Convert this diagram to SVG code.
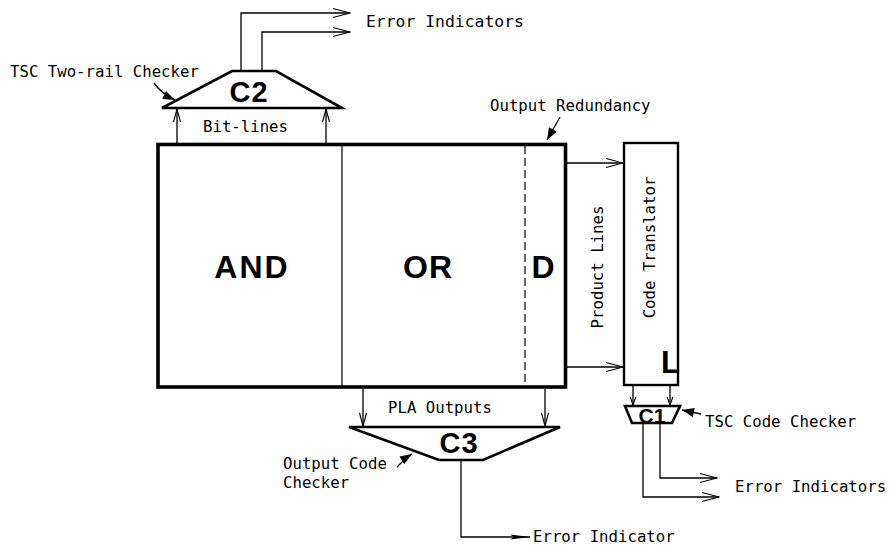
<svg xmlns="http://www.w3.org/2000/svg" width="889" height="549" viewBox="0 0 889 549">
<style>
.lbl{font-family:"DejaVu Sans Mono","Liberation Mono",monospace;font-size:15.7px;fill:#000}
.big{font-family:"Liberation Sans","DejaVu Sans",sans-serif;font-weight:bold;fill:#000}
.ln{fill:none;stroke:#000;stroke-width:1.3}
.thick{fill:none;stroke:#000;stroke-width:2.6;stroke-linejoin:miter}
</style>
<defs>
<marker id="vLong" viewBox="-19 -6 20 12" refX="0" refY="0" markerWidth="20" markerHeight="12" markerUnits="userSpaceOnUse" orient="auto"><path d="M-17,-4.5 L0,0 L-17,4.5" fill="none" stroke="#000" stroke-width="1.2"/></marker>
<marker id="vMid" viewBox="-15 -5 16 10" refX="0" refY="0" markerWidth="16" markerHeight="10" markerUnits="userSpaceOnUse" orient="auto"><path d="M-13,-3.5 L0,0 L-13,3.5" fill="none" stroke="#000" stroke-width="1.1"/></marker>
<marker id="vShort" viewBox="-10 -4 11 8" refX="0" refY="0" markerWidth="11" markerHeight="8" markerUnits="userSpaceOnUse" orient="auto"><path d="M-8,-2.8 L0,0 L-8,2.8" fill="none" stroke="#000" stroke-width="1.1"/></marker>
<marker id="fThin" viewBox="-21 -4 22 8" refX="0" refY="0" markerWidth="22" markerHeight="8" markerUnits="userSpaceOnUse" orient="auto"><path d="M-20,-2.5 L0,0 L-20,2.5 L-16,0 Z" fill="#000"/></marker>
<marker id="fCall" viewBox="-13 -6 14 12" refX="0" refY="0" markerWidth="14" markerHeight="12" markerUnits="userSpaceOnUse" orient="auto"><path d="M-12,-4.5 L0,0 L-12,4.5 Z" fill="#000"/></marker>
</defs>

<g id="pla">
<rect x="158" y="144.5" width="407.5" height="242.5" fill="none" stroke="#000" stroke-width="3.6"/>
<line x1="342" y1="145" x2="342" y2="387" stroke="#000" stroke-width="1.2"/>
<line x1="525" y1="146" x2="525" y2="386" stroke="#000" stroke-width="1.2" stroke-dasharray="8,4"/>
<text class="big" x="252" y="278" font-size="32" text-anchor="middle" letter-spacing="2">AND</text>
<text class="big" x="428" y="278" font-size="32" text-anchor="middle" letter-spacing="1">OR</text>
<text class="big" x="543" y="278" font-size="32" text-anchor="middle">D</text>
</g>

<g id="c2">
<path class="thick" d="M162,108 L232,71 L276,71 L342,108 Z"/>
<text class="big" x="249" y="102" font-size="29" text-anchor="middle" letter-spacing="1">C2</text>
</g>

<g id="c3">
<path class="thick" d="M349,427 L560,427 L483,460 L439,460 Z"/>
<text class="big" x="459" y="453" font-size="29" text-anchor="middle" letter-spacing="1">C3</text>
</g>

<g id="translator">
<rect x="624" y="143" width="54" height="242" fill="none" stroke="#000" stroke-width="2.4"/>
<text class="big" x="661" y="373" font-size="31">L</text>
<text class="lbl" transform="translate(655,247.5) rotate(-90)" text-anchor="middle">Code Translator</text>
</g>

<g id="c1">
<path class="thick" d="M625,406 L680,406 L672,423 L632,423 Z"/>
<text class="big" x="652" y="422.5" font-size="21" text-anchor="middle">C1</text>
</g>

<g id="connectors">
<polyline class="ln" points="241,71 241,13 350,13" marker-end="url(#vLong)"/>
<polyline class="ln" points="262,71 262,32 350,32" marker-end="url(#vLong)"/>
<line class="ln" x1="177" y1="143" x2="177" y2="109" marker-end="url(#vMid)"/>
<line class="ln" x1="326" y1="143" x2="326" y2="109" marker-end="url(#vMid)"/>
<line class="ln" x1="567" y1="163" x2="623" y2="163" marker-end="url(#vLong)"/>
<line class="ln" x1="567" y1="367" x2="623" y2="367" marker-end="url(#vLong)"/>
<line class="ln" x1="363" y1="389" x2="363" y2="426" marker-end="url(#vMid)"/>
<line class="ln" x1="545" y1="389" x2="545" y2="426" marker-end="url(#vMid)"/>
<polyline class="ln" points="461,460 461,537 530,537" marker-end="url(#fThin)"/>
<line class="ln" x1="633" y1="386" x2="633" y2="405" marker-end="url(#vShort)"/>
<line class="ln" x1="670" y1="386" x2="670" y2="405" marker-end="url(#vShort)"/>
<polyline class="ln" points="660,423 660,478 717,478" marker-end="url(#vLong)"/>
<polyline class="ln" points="643,423 643,497 719,497" marker-end="url(#vLong)"/>
<path class="ln" d="M154,83 Q162,94 175,100" marker-end="url(#fCall)"/>
<path class="ln" d="M560,117 L547,140" marker-end="url(#fCall)"/>
<path class="ln" d="M397,467 Q404,459 412,454" marker-end="url(#fCall)"/>
<path class="ln" d="M701,414 L682,410" marker-end="url(#fCall)"/>
</g>

<g id="labels">
<text class="lbl" x="366" y="27" style="font-size:16.4px">Error Indicators</text>
<text class="lbl" x="10" y="77">TSC Two-rail Checker</text>
<text class="lbl" x="203" y="132">Bit-lines</text>
<text class="lbl" x="490" y="111">Output Redundancy</text>
<text class="lbl" transform="translate(603,267) rotate(-90)" text-anchor="middle">Product Lines</text>
<text class="lbl" x="388" y="413">PLA Outputs</text>
<text class="lbl" x="283" y="469">Output Code</text>
<text class="lbl" x="283" y="488">Checker</text>
<text class="lbl" x="533" y="542">Error Indicator</text>
<text class="lbl" x="705" y="427">TSC Code Checker</text>
<text class="lbl" x="735" y="492">Error Indicators</text>
</g>
</svg>
